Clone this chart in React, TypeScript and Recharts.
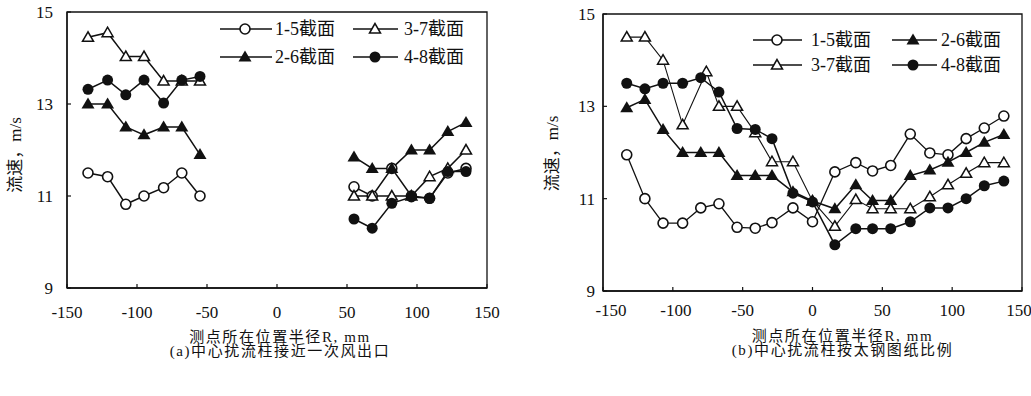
import React from 'react';
import { LineChart, Line, XAxis, YAxis, ReferenceArea, Legend, Label } from 'recharts';

const FONT = "'Liberation Serif', 'Noto Sans CJK SC', serif";
const INK = '#111';

// 坐标轴刻度
const xTicks = [-150, -100, -50, 0, 50, 100, 150];
const yTicks = [9, 11, 13, 15];

// (a) 中心扰流柱接近一次风出口：左右两组测点
const aXLeft = [-135, -121, -108, -95, -81, -68, -55];
const aXRight = [55, 68, 82, 96, 109, 122, 135];
const a15L = [11.5, 11.42, 10.82, 11.0, 11.18, 11.5, 11.0];
const a15R = [11.2, 11.0, 11.6, 11.0, 10.95, 11.5, 11.6];
const a37L = [14.45, 14.55, 14.03, 14.03, 13.5, 13.5, 13.5];
const a37R = [11.0, 11.0, 11.0, 11.0, 11.42, 11.6, 12.0];
const a26L = [13.0, 13.0, 12.5, 12.33, 12.5, 12.5, 11.9];
const a26R = [11.85, 11.6, 11.6, 12.0, 12.0, 12.4, 12.6];
const a48L = [13.32, 13.52, 13.2, 13.52, 13.02, 13.52, 13.6];
const a48R = [10.5, 10.3, 10.84, 10.98, 10.95, 11.53, 11.53];

// (b) 中心扰流柱按太钢图纸比例
const bX = [-133, -120, -107, -93, -80, -67, -54, -41, -29, -14, 0, 16, 31, 43, 56, 70, 84, 97, 110, 123, 137];
const bX37 = [-133, -120, -107, -93, -76, -67, -54, -41, -29, -14, 0, 16, 31, 43, 56, 70, 84, 97, 110, 123, 137];
const b15 = [11.95, 11.0, 10.47, 10.47, 10.8, 10.89, 10.38, 10.36, 10.48, 10.8, 10.5, 11.58, 11.78, 11.6, 11.72, 12.4, 11.99, 11.95, 12.3, 12.53, 12.79];
const b26 = [12.97, 13.15, 12.5, 12.0, 12.0, 12.0, 11.5, 11.5, 11.5, 11.15, 10.95, 10.78, 11.3, 10.96, 10.96, 11.5, 11.62, 11.79, 12.0, 12.22, 12.39];
const b37 = [14.5, 14.5, 14.0, 12.6, 13.75, 13.0, 13.0, 12.43, 11.8, 11.8, 10.95, 10.4, 10.98, 10.78, 10.78, 10.78, 11.04, 11.3, 11.55, 11.78, 11.78];
const b48 = [13.5, 13.38, 13.5, 13.5, 13.62, 13.31, 12.52, 12.5, 12.3, 11.12, 10.93, 10.0, 10.35, 10.35, 10.35, 10.5, 10.8, 10.8, 11.0, 11.28, 11.38];

type Kind = 'openCircle' | 'filledCircle' | 'openTri' | 'filledTri';

const pts = (xs: number[], vs: number[]) => xs.map((x, i) => ({ x, v: vs[i] }));

const Marker = ({ kind, cx, cy }: { kind: Kind; cx: number; cy: number }) => {
  if (cx == null || cy == null) return null;
  switch (kind) {
    case 'openCircle':
      return <circle cx={cx} cy={cy} r={5} fill="#fff" stroke={INK} strokeWidth={1.6} />;
    case 'filledCircle':
      return <circle cx={cx} cy={cy} r={5.5} fill={INK} />;
    case 'openTri':
      return (
        <polygon
          points={`${cx},${cy - 5.5} ${cx - 5.5},${cy + 4} ${cx + 5.5},${cy + 4}`}
          fill="#fff"
          stroke={INK}
          strokeWidth={1.5}
        />
      );
    default:
      return <polygon points={`${cx},${cy - 6.5} ${cx - 6.5},${cy + 4.5} ${cx + 6.5},${cy + 4.5}`} fill={INK} />;
  }
};

const dotOf = (kind: Kind, tag: string) => (p: any) => (
  <Marker key={`${tag}-${p.index}`} kind={kind} cx={p.cx} cy={p.cy} />
);

interface LegendItem {
  name: string;
  kind: Kind;
  x1: number;
  x2: number;
  mx: number;
  tx: number;
  y: number;
}

const legendA: LegendItem[] = [
  { name: '1-5截面', kind: 'openCircle', x1: 220, x2: 272, mx: 245, tx: 275, y: 29 },
  { name: '3-7截面', kind: 'openTri', x1: 353, x2: 398, mx: 375, tx: 404, y: 29 },
  { name: '2-6截面', kind: 'filledTri', x1: 220, x2: 272, mx: 245, tx: 275, y: 57 },
  { name: '4-8截面', kind: 'filledCircle', x1: 353, x2: 398, mx: 375, tx: 404, y: 57 },
];

const legendB: LegendItem[] = [
  { name: '1-5截面', kind: 'openCircle', x1: 233, x2: 282, mx: 257, tx: 291, y: 40 },
  { name: '2-6截面', kind: 'filledTri', x1: 372, x2: 417, mx: 393, tx: 421, y: 40 },
  { name: '3-7截面', kind: 'openTri', x1: 233, x2: 282, mx: 257, tx: 291, y: 65 },
  { name: '4-8截面', kind: 'filledCircle', x1: 372, x2: 417, mx: 393, tx: 421, y: 65 },
];

const LegendBox = ({ items, w, h }: { items: LegendItem[]; w: number; h: number }) => (
  <svg width={w} height={h} style={{ pointerEvents: 'none' }}>
    {items.map((it) => (
      <g key={it.name}>
        <line x1={it.x1} x2={it.x2} y1={it.y} y2={it.y} stroke={INK} strokeWidth={1.5} />
        <Marker kind={it.kind} cx={it.mx} cy={it.y} />
        <text x={it.tx} y={it.y} dominantBaseline="central" fontSize={18} fontFamily={FONT} fill={INK}>
          {it.name}
        </text>
      </g>
    ))}
  </svg>
);

const yLabel = (dx: number, dy: number) => (p: any) => {
  const vb = p.viewBox || { x: 0, y: 0, height: 0 };
  const x = vb.x + dx;
  const y = vb.y + vb.height / 2 + dy;
  return (
    <text
      x={x}
      y={y}
      transform={`rotate(-90 ${x} ${y})`}
      textAnchor="middle"
      dominantBaseline="central"
      fontSize={17}
      fontFamily={FONT}
      fill={INK}
    >
      流速，m/s
    </text>
  );
};

// x 轴刻度文字（个别刻度按原图略作偏移）
const xTick = (shift: Record<number, number>) => (p: any) => {
  const v = p.payload?.value;
  return (
    <text
      x={p.x + (shift[v] || 0)}
      y={p.y}
      dy="0.71em"
      textAnchor="middle"
      fontSize={17}
      fontFamily={FONT}
      fill={INK}
    >
      {v}
    </text>
  );
};

const tickStyle = { fontSize: 17, fontFamily: FONT, fill: INK };
const axisLine = { stroke: INK, strokeWidth: 1.3 };
const tickLine = { stroke: INK, strokeWidth: 1.2 };
const capStyle = { fontSize: 15, fontFamily: FONT, fill: INK, letterSpacing: 1.6 };

const lineProps = {
  type: 'linear' as const,
  dataKey: 'v',
  stroke: INK,
  strokeWidth: 1.5,
  isAnimationActive: false,
  activeDot: false,
  legendType: 'none' as const,
};

const W_A = 500;
const W_B = 511;
const H = 370;

const App: React.FC = () => {
  const aSeries: { tag: string; kind: Kind; xs: number[]; vs: number[] }[] = [
    { tag: 'a15L', kind: 'openCircle', xs: aXLeft, vs: a15L },
    { tag: 'a15R', kind: 'openCircle', xs: aXRight, vs: a15R },
    { tag: 'a37L', kind: 'openTri', xs: aXLeft, vs: a37L },
    { tag: 'a37R', kind: 'openTri', xs: aXRight, vs: a37R },
    { tag: 'a26L', kind: 'filledTri', xs: aXLeft, vs: a26L },
    { tag: 'a26R', kind: 'filledTri', xs: aXRight, vs: a26R },
    { tag: 'a48L', kind: 'filledCircle', xs: aXLeft, vs: a48L },
    { tag: 'a48R', kind: 'filledCircle', xs: aXRight, vs: a48R },
  ];
  const bSeries: { tag: string; kind: Kind; xs: number[]; vs: number[]; sw: number }[] = [
    { tag: 'b15', kind: 'openCircle', xs: bX, vs: b15, sw: 1.3 },
    { tag: 'b37', kind: 'openTri', xs: bX37, vs: b37, sw: 1.1 },
    { tag: 'b26', kind: 'filledTri', xs: bX, vs: b26, sw: 1.5 },
    { tag: 'b48', kind: 'filledCircle', xs: bX, vs: b48, sw: 1.5 },
  ];

  return (
    <div
      style={{
        position: 'absolute',
        left: 0,
        top: 0,
        width: 1031,
        height: 396,
        background: '#fff',
        fontFamily: FONT,
        overflow: 'hidden',
      }}
    >
      <div style={{ position: 'absolute', left: 0, top: 0 }}>
        <LineChart width={W_A} height={H} margin={{ top: 12, right: 13, left: 0, bottom: 42 }}>
          <XAxis
            type="number"
            dataKey="x"
            domain={[-150, 150]}
            ticks={xTicks}
            allowDataOverflow
            height={40}
            tick={xTick({})}
            tickSize={-4}
            tickMargin={22}
            axisLine={axisLine}
            tickLine={tickLine}
          >
            <Label value="测点所在位置半径R, mm" position="bottom" offset={3} dx={3} {...capStyle} />
            <Label value="(a)中心扰流柱接近一次风出口" position="bottom" offset={17} dx={3} {...capStyle} />
          </XAxis>
          <YAxis
            type="number"
            domain={[9, 15]}
            ticks={yTicks}
            allowDataOverflow
            width={67}
            tick={tickStyle}
            tickSize={-4}
            tickMargin={18}
            axisLine={axisLine}
            tickLine={tickLine}
          >
            <Label content={yLabel(15, 5)} />
          </YAxis>
          <ReferenceArea x1={-150} x2={150} y1={9} y2={15} fill="none" stroke={INK} strokeWidth={1.3} ifOverflow="visible" />
          {aSeries.map((s) => (
            <Line key={s.tag} {...lineProps} data={pts(s.xs, s.vs)} dot={dotOf(s.kind, s.tag)} />
          ))}
          <Legend
            layout="vertical"
            align="center"
            verticalAlign="middle"
            wrapperStyle={{ left: 0, top: 0, width: W_A, height: 100 }}
            content={() => <LegendBox items={legendA} w={W_A} h={100} />}
          />
        </LineChart>
      </div>

      <div style={{ position: 'absolute', left: 520, top: 0 }}>
        <LineChart width={W_B} height={H} margin={{ top: 14, right: 9, left: 0, bottom: 39 }}>
          <XAxis
            type="number"
            dataKey="x"
            domain={[-150, 150]}
            ticks={xTicks}
            allowDataOverflow
            height={40}
            tick={xTick({ [-150]: 8, [-100]: 3 })}
            tickSize={-4}
            tickMargin={17}
            axisLine={axisLine}
            tickLine={tickLine}
          >
            <Label value="测点所在位置半径R, mm" position="bottom" offset={-1} dx={30} {...capStyle} />
            <Label value="(b)中心扰流柱按太钢图纸比例" position="bottom" offset={13} dx={30} {...capStyle} />
          </XAxis>
          <YAxis
            type="number"
            domain={[9, 15]}
            ticks={yTicks}
            allowDataOverflow
            width={83}
            tick={tickStyle}
            tickSize={-4}
            tickMargin={12}
            axisLine={axisLine}
            tickLine={tickLine}
          >
            <Label content={yLabel(32, 1)} />
          </YAxis>
          <ReferenceArea x1={-150} x2={150} y1={9} y2={15} fill="none" stroke={INK} strokeWidth={1.3} ifOverflow="visible" />
          {bSeries.map((s) => (
            <Line key={s.tag} {...lineProps} strokeWidth={s.sw} data={pts(s.xs, s.vs)} dot={dotOf(s.kind, s.tag)} />
          ))}
          <Legend
            layout="vertical"
            align="center"
            verticalAlign="middle"
            wrapperStyle={{ left: 0, top: 0, width: W_B, height: 100 }}
            content={() => <LegendBox items={legendB} w={W_B} h={100} />}
          />
        </LineChart>
      </div>
    </div>
  );
};

export default App;
